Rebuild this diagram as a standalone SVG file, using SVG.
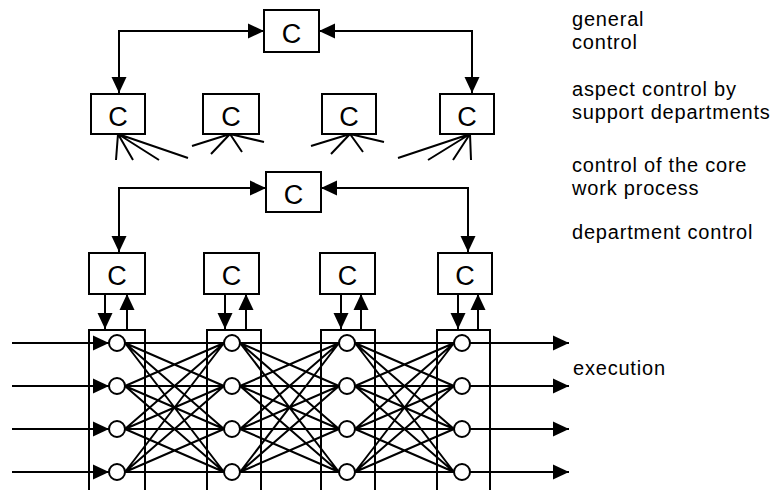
<svg xmlns="http://www.w3.org/2000/svg" width="774" height="490" viewBox="0 0 774 490">
<style>
.box{fill:#fff;stroke:#000;stroke-width:2}
.col{fill:none;stroke:#000;stroke-width:2}
.c{font-family:"Liberation Sans",Arial,sans-serif;font-size:27px;text-anchor:middle;fill:#000}
.lbl{font-family:"Liberation Sans",Arial,sans-serif;font-size:20px;letter-spacing:0.8px;fill:#000}
.ln{fill:none;stroke:#000;stroke-width:2}
.arr{fill:none;stroke:#000;stroke-width:2;marker-end:url(#ah)}
.arr2{fill:none;stroke:#000;stroke-width:2;marker-start:url(#ah);marker-end:url(#ah)}
.node{fill:#fff;stroke:#000;stroke-width:2}
</style>
<defs>
<marker id="ah" markerUnits="userSpaceOnUse" markerWidth="17" markerHeight="16" refX="16" refY="8" orient="auto-start-reverse" viewBox="0 0 17 16">
<path d="M0,0.5 L16,8 L0,15.5 z" fill="#000"/>
</marker>
</defs>

<g id="connectors">
<path class="arr2" d="M119,93 L119,31 L264,31"/>
<path class="arr2" d="M472,93 L472,31 L319,31"/>
<path class="ln" d="M118,134 L116,160 M118,134 L133,160 M118,134 L159,160 M118,134 L188,158"/>
<path class="ln" d="M230,134 L192,146 M230,134 L211,154 M230,134 L242,152 M230,134 L264,142"/>
<path class="ln" d="M350,134 L311,146 M350,134 L331,154 M350,134 L363,152 M350,134 L384,142"/>
<path class="ln" d="M470,134 L398,158 M470,134 L428,160 M470,134 L453,160 M470,134 L471,160"/>
<path class="arr2" d="M119,252 L119,188 L266,188"/>
<path class="arr2" d="M468,252 L468,188 L321,188"/>
<path class="arr" d="M105,294 L105,329"/>
<path class="arr" d="M127,329 L127,294"/>
<path class="arr" d="M225,294 L225,329"/>
<path class="arr" d="M246,329 L246,294"/>
<path class="arr" d="M341,294 L341,329"/>
<path class="arr" d="M361,329 L361,294"/>
<path class="arr" d="M458,294 L458,329"/>
<path class="arr" d="M478,329 L478,294"/>
<path class="arr" d="M12,343 L109,343"/>
<path class="arr" d="M12,386 L109,386"/>
<path class="arr" d="M12,429 L109,429"/>
<path class="arr" d="M12,472 L109,472"/>
<path class="arr" d="M470,343 L569,343"/>
<path class="arr" d="M470,386 L569,386"/>
<path class="arr" d="M470,429 L569,429"/>
<path class="arr" d="M470,472 L569,472"/>
<path class="ln" stroke-width="1.8" d="M125,343 L224,343 M125,343 L224,386 M125,343 L224,429 M125,343 L224,472 M125,386 L224,343 M125,386 L224,386 M125,386 L224,429 M125,386 L224,472 M125,429 L224,343 M125,429 L224,386 M125,429 L224,429 M125,429 L224,472 M125,472 L224,343 M125,472 L224,386 M125,472 L224,429 M125,472 L224,472"/>
<path class="ln" stroke-width="1.8" d="M240,343 L339,343 M240,343 L339,386 M240,343 L339,429 M240,343 L339,472 M240,386 L339,343 M240,386 L339,386 M240,386 L339,429 M240,386 L339,472 M240,429 L339,343 M240,429 L339,386 M240,429 L339,429 M240,429 L339,472 M240,472 L339,343 M240,472 L339,386 M240,472 L339,429 M240,472 L339,472"/>
<path class="ln" stroke-width="1.8" d="M355,343 L454,343 M355,343 L454,386 M355,343 L454,429 M355,343 L454,472 M355,386 L454,343 M355,386 L454,386 M355,386 L454,429 M355,386 L454,472 M355,429 L454,343 M355,429 L454,386 M355,429 L454,429 M355,429 L454,472 M355,472 L454,343 M355,472 L454,386 M355,472 L454,429 M355,472 L454,472"/>
</g>

<g id="general-control">
<rect class="box" x="264" y="10" width="55" height="42"/>
<text class="c" x="291.5" y="43">C</text>
</g>
<g id="aspect-control-1">
<rect class="box" x="91" y="94" width="54" height="40"/>
<text class="c" x="118" y="126">C</text>
</g>
<g id="aspect-control-2">
<rect class="box" x="203" y="94" width="56" height="40"/>
<text class="c" x="231" y="126">C</text>
</g>
<g id="aspect-control-3">
<rect class="box" x="322" y="94" width="54" height="40"/>
<text class="c" x="349" y="126">C</text>
</g>
<g id="aspect-control-4">
<rect class="box" x="440" y="94" width="54" height="40"/>
<text class="c" x="467" y="126">C</text>
</g>
<g id="core-control">
<rect class="box" x="266" y="172" width="55" height="40"/>
<text class="c" x="293.5" y="204">C</text>
</g>
<g id="dept-control-1">
<rect class="box" x="89" y="253" width="56" height="41"/>
<text class="c" x="117" y="285">C</text>
</g>
<g id="dept-control-2">
<rect class="box" x="204" y="253" width="55" height="41"/>
<text class="c" x="231.5" y="285">C</text>
</g>
<g id="dept-control-3">
<rect class="box" x="320" y="253" width="55" height="41"/>
<text class="c" x="347.5" y="285">C</text>
</g>
<g id="dept-control-4">
<rect class="box" x="438" y="253" width="54" height="41"/>
<text class="c" x="465" y="285">C</text>
</g>

<g id="execution-col-1">
<rect class="col" x="89" y="330" width="56" height="170"/>
<circle class="node" cx="117" cy="343" r="8"/>
<circle class="node" cx="117" cy="386" r="8"/>
<circle class="node" cx="117" cy="429" r="8"/>
<circle class="node" cx="117" cy="472" r="8"/>
</g>
<g id="execution-col-2">
<rect class="col" x="207" y="330" width="54" height="170"/>
<circle class="node" cx="232" cy="343" r="8"/>
<circle class="node" cx="232" cy="386" r="8"/>
<circle class="node" cx="232" cy="429" r="8"/>
<circle class="node" cx="232" cy="472" r="8"/>
</g>
<g id="execution-col-3">
<rect class="col" x="321" y="330" width="54" height="170"/>
<circle class="node" cx="347" cy="343" r="8"/>
<circle class="node" cx="347" cy="386" r="8"/>
<circle class="node" cx="347" cy="429" r="8"/>
<circle class="node" cx="347" cy="472" r="8"/>
</g>
<g id="execution-col-4">
<rect class="col" x="437" y="330" width="53" height="170"/>
<circle class="node" cx="462" cy="343" r="8"/>
<circle class="node" cx="462" cy="386" r="8"/>
<circle class="node" cx="462" cy="429" r="8"/>
<circle class="node" cx="462" cy="472" r="8"/>
</g>

<g id="labels">
<text class="lbl" x="572" y="26">general</text>
<text class="lbl" x="572" y="49">control</text>
<text class="lbl" x="572" y="96">aspect  control by</text>
<text class="lbl" x="572" y="119">support departments</text>
<text class="lbl" x="572" y="172">control of the core</text>
<text class="lbl" x="572" y="195">work process</text>
<text class="lbl" x="572" y="239">department control</text>
<text class="lbl" x="573" y="375">execution</text>
</g>
</svg>
